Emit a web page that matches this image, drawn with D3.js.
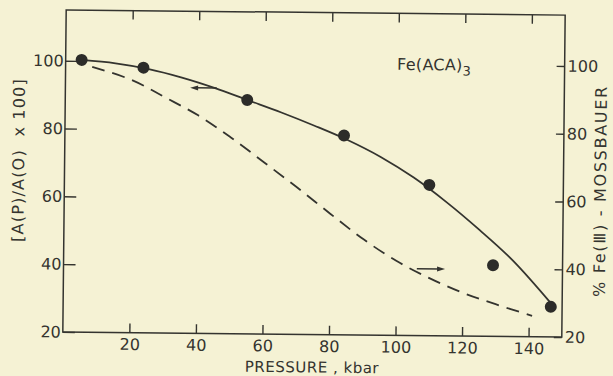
<!DOCTYPE html>
<meta charset="utf-8">
<script src="https://d3js.org/d3.v7.min.js"></script>
<style>
  body { margin: 0; background: #f5f2d4; }
  text { font-family: 'DejaVu Sans', sans-serif; fill: #34342f; }
</style>
<body>
<div id="my_dataviz"></div>
<script>

// measured points: pressure (kbar) and [A(P)/A(0) x 100]
var pressure = [4.8, 23.4, 54.7, 83.9, 109.7, 129.1, 146.6];
var absorb   = [100.3, 98.2, 89.0, 78.8, 64.5, 41.0, 28.9];

// hand-drawn fit through the points (solid)
var fitP = [4.8, 15, 25, 35, 45, 55, 65, 75, 85, 95, 105, 115, 125, 135, 146.6];
var fitA = [100.3, 99.4, 97.8, 95.4, 92.4, 88.9, 85.4, 81.6, 77.5, 72.6, 66.6, 59.4, 51.3, 42.5, 30.0];

// % Fe(III) from Mossbauer (dashed, right axis)
var mossP  = [8, 20, 30, 40, 50, 60, 70, 80, 90, 100, 110, 120, 130, 141];
var mossFe = [98.3, 94.5, 89.5, 84.3, 77.8, 70.6, 63.3, 55.7, 48.3, 42, 37, 32.8, 29.5, 26.2];

var xTicks = [20, 40, 60, 80, 100, 120, 140];
var yTicks = [20, 40, 60, 80, 100];

var width = 613, height = 376;
var ink = "#34342f";

var svg = d3.select("#my_dataviz")
  .append("svg")
    .attr("width", width)
    .attr("height", height);

// the scan is a little tilted
var g = svg.append("g")
  .attr("transform", "rotate(0.6,313,173)");

var x = d3.scaleLinear().domain([0, 150]).range([64.5, 563.5]);
var y = d3.scaleLinear().domain([20, 115]).range([334.5, 12.5]);
var y2 = d3.scaleLinear().domain([20, 115]).range([334.5, 12.5]);

// frame
g.append("rect")
  .attr("x", x(0)).attr("y", y(115))
  .attr("width", x(150) - x(0)).attr("height", y(20) - y(115))
  .attr("fill", "none").attr("stroke", ink).attr("stroke-width", 1.5);

function styleAxis(sel) {
  sel.select(".domain").remove();
  sel.selectAll("line").attr("stroke", ink).attr("stroke-width", 1.4);
  sel.selectAll("text")
    .style("font-family", "'DejaVu Sans', sans-serif")
    .style("font-size", "16px")
    .attr("fill", ink);
}

g.append("g")
  .attr("transform", "translate(0," + y(20) + ")")
  .call(d3.axisBottom(x).tickValues(xTicks).tickSizeInner(-9).tickSizeOuter(0).tickPadding(6))
  .call(styleAxis);

g.append("g")
  .attr("transform", "translate(0," + y(115) + ")")
  .call(d3.axisTop(x).tickValues(xTicks).tickSizeInner(-9).tickSizeOuter(0).tickFormat(""))
  .call(styleAxis);

g.append("g")
  .attr("transform", "translate(" + x(0) + ",0)")
  .call(d3.axisLeft(y).tickValues(yTicks).tickSizeInner(-12).tickSizeOuter(0).tickPadding(2))
  .call(styleAxis);

g.append("g")
  .attr("transform", "translate(" + x(150) + ",0)")
  .call(d3.axisRight(y2).tickValues(yTicks).tickSizeInner(-8).tickSizeOuter(0).tickPadding(3))
  .call(styleAxis);

// curves
var fitLine = d3.line()
  .x(function(d, i) { return x(fitP[i]); })
  .y(function(d) { return y(d); })
  .curve(d3.curveCatmullRom);

g.append("path")
  .datum(fitA)
  .attr("d", fitLine)
  .attr("fill", "none").attr("stroke", ink).attr("stroke-width", 1.8);

var mossLine = d3.line()
  .x(function(d, i) { return x(mossP[i]); })
  .y(function(d) { return y2(d); })
  .curve(d3.curveCatmullRom);

g.append("path")
  .datum(mossFe)
  .attr("d", mossLine)
  .attr("fill", "none").attr("stroke", ink).attr("stroke-width", 1.8)
  .attr("stroke-dasharray", "13,8");

// points
g.selectAll("circle")
  .data(absorb)
  .enter()
  .append("circle")
    .attr("cx", function(d, i) { return x(pressure[i]); })
    .attr("cy", function(d) { return y(d); })
    .attr("r", 6)
    .attr("fill", "#2c2c29");

// arrows telling which axis each curve uses
var arrows = [
  {from: 45.5, to: 37.5, v: 92.4, scale: y},
  {from: 106.2, to: 114.7, v: 39.7, scale: y2}
];
arrows.forEach(function(a) {
  var x1 = x(a.from), x2 = x(a.to), yy = a.scale(a.v);
  var dir = x2 > x1 ? 1 : -1;
  g.append("line")
    .attr("x1", x1).attr("y1", yy).attr("x2", x2 - dir * 5).attr("y2", yy)
    .attr("stroke", ink).attr("stroke-width", 1.5);
  g.append("path")
    .attr("d", "M" + x2 + "," + yy + "L" + (x2 - dir * 8) + "," + (yy - 2.5) + "L" + (x2 - dir * 8) + "," + (yy + 2.5) + "Z")
    .attr("fill", ink);
});

// labels
g.append("text")
  .attr("x", x(75)).attr("y", 372.5)
  .attr("text-anchor", "middle")
  .style("font-size", "15px")
  .style("letter-spacing", "0.5px")
  .style("white-space", "pre")
  .text("PRESSURE , kbar");

g.append("text")
  .attr("transform", "translate(24,163)rotate(-90)")
  .attr("text-anchor", "middle")
  .style("font-size", "16px")
  .style("letter-spacing", "1.2px")
  .style("white-space", "pre")
  .text("[A(P)/A(O)  x 100]");

g.append("text")
  .attr("transform", "translate(606,188)rotate(-90)")
  .attr("text-anchor", "middle")
  .style("font-size", "16px")
  .style("letter-spacing", "1.7px")
  .style("white-space", "pre")
  .text("% Fe(\u2162) - MOSSBAUER");

var title = g.append("text")
  .attr("x", 396).attr("y", 69)
  .style("font-size", "16px")
  .style("letter-spacing", "0.3px");
title.append("tspan").text("Fe(ACA)");
title.append("tspan").attr("dy", 5).style("font-size", "13px").text("3");

</script>
</body>
